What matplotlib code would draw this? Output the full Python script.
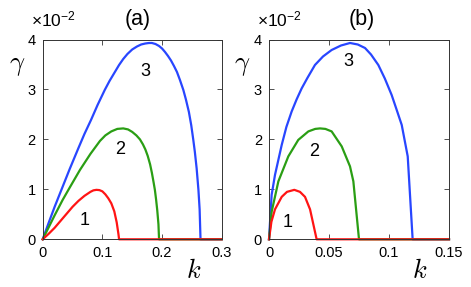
import matplotlib
matplotlib.use("Agg")
import matplotlib.pyplot as plt

# growth rate gamma (units of 1e-2) vs wavenumber k
# panel (a)
k1_a = [0, 0.01, 0.02, 0.03, 0.04, 0.05, 0.06, 0.07, 0.08, 0.085, 0.09, 0.095,
        0.10, 0.105, 0.11, 0.115, 0.12, 0.124, 0.127, 0.128, 0.3]
g1_a = [0, 0.11, 0.23, 0.37, 0.51, 0.65, 0.77, 0.87, 0.95, 0.98, 0.99, 0.985,
        0.96, 0.90, 0.82, 0.72, 0.56, 0.34, 0.10, 0, 0]

k2_a = [0, 0.01, 0.02, 0.0335, 0.045, 0.0625, 0.08, 0.096, 0.105, 0.115, 0.125,
        0.135, 0.143, 0.15, 0.157, 0.163, 0.168, 0.172, 0.176, 0.18, 0.183,
        0.186, 0.188, 0.19, 0.192, 0.194, 0.195, 0.3]
g2_a = [0, 0.24, 0.48, 0.79, 1.03, 1.39, 1.71, 1.97, 2.08, 2.16, 2.21,
        2.22, 2.20, 2.15, 2.08, 2.00, 1.90, 1.80, 1.67, 1.50, 1.33,
        1.13, 0.99, 0.80, 0.58, 0.30, 0, 0]

k3_a = [0, 0.01, 0.02, 0.03, 0.045, 0.06, 0.07, 0.081, 0.092, 0.104, 0.112,
        0.12, 0.128, 0.135, 0.142, 0.15, 0.158, 0.165, 0.172, 0.178, 0.183,
        0.189, 0.195, 0.2, 0.205, 0.21, 0.215, 0.22, 0.225, 0.23, 0.2357,
        0.24, 0.245, 0.249, 0.2524, 0.255, 0.258, 0.261, 0.263, 0.2645, 0.3]
g3_a = [0, 0.33, 0.65, 0.95, 1.40, 1.83, 2.11, 2.39, 2.69, 2.99, 3.17,
        3.33, 3.49, 3.61, 3.71, 3.80, 3.86, 3.90, 3.92, 3.93, 3.93,
        3.91, 3.87, 3.82, 3.75, 3.67, 3.58, 3.47, 3.35, 3.19, 2.99,
        2.80, 2.55, 2.28, 1.99, 1.75, 1.42, 0.99, 0.60, 0, 0]

# panel (b)
k1_b = [0, 0.002, 0.005, 0.0106, 0.015, 0.0211, 0.0258, 0.03, 0.0342, 0.0397, 0.15]
g1_b = [0, 0.35, 0.60, 0.85, 0.95, 0.99, 0.95, 0.85, 0.60, 0, 0]

k2_b = [0, 0.0022, 0.0078, 0.0161, 0.0244, 0.0328, 0.0385, 0.0425, 0.047,
        0.0522, 0.0606, 0.0675, 0.0703, 0.075, 0.15]
g2_b = [0, 0.55, 1.16, 1.66, 1.99, 2.16, 2.21, 2.22, 2.21,
        2.16, 1.86, 1.46, 1.16, 0, 0]

k3_b = [0, 0.0022, 0.005, 0.0106, 0.0145, 0.0189, 0.023, 0.0272, 0.032, 0.0383,
        0.045, 0.0522, 0.06, 0.0675, 0.074, 0.08, 0.085, 0.0911, 0.0965,
        0.1022, 0.106, 0.1106, 0.1156, 0.1197, 0.15]
g3_b = [0, 0.89, 1.29, 1.89, 2.25, 2.56, 2.80, 3.02, 3.23, 3.49,
        3.66, 3.79, 3.88, 3.93, 3.90, 3.83, 3.70, 3.49, 3.22,
        2.89, 2.62, 2.29, 1.66, 0, 0]

xticks_a = [0, 0.1, 0.2, 0.3]
xticks_b = [0, 0.05, 0.1, 0.15]
yticks = [0, 1, 2, 3, 4]

RED, GREEN, BLUE = "#ff1414", "#2a9e14", "#2846ff"

plt.rcParams["font.family"] = ["Liberation Sans", "DejaVu Sans"]
plt.rcParams["mathtext.fontset"] = "custom"
plt.rcParams["mathtext.rm"] = "Liberation Sans"
plt.rcParams["mathtext.it"] = "Liberation Sans:italic"

W, H = 471, 287
fig = plt.figure(figsize=(W / 100, H / 100), dpi=100)


def px(x, y):
    return x / W, 1 - y / H


ax_a = fig.add_axes([42.7 / W, 1 - 239.3 / H, 179 / W, 199.8 / H])
ax_b = fig.add_axes([269 / W, 1 - 239.3 / H, 180 / W, 199.8 / H])

panels = [
    (ax_a, [(k3_a, g3_a, BLUE), (k2_a, g2_a, GREEN), (k1_a, g1_a, RED)],
     xticks_a, ["0", "0.1", "0.2", "0.3"],
     [(0.071, 0.37), (0.130, 1.79), (0.172, 3.35)]),
    (ax_b, [(k3_b, g3_b, BLUE), (k2_b, g2_b, GREEN), (k1_b, g1_b, RED)],
     xticks_b, ["0", "0.05", "0.1", "0.15"],
     [(0.0158, 0.33), (0.0375, 1.75), (0.0658, 3.55)]),
]

for ax, curves, xt, xtl, lab_pos in panels:
    for k, g, c in curves:
        ax.plot(k, g, color=c, lw=1.6, clip_on=False)
    ax.set_xlim(xt[0], xt[-1])
    ax.set_ylim(0, 4)
    ax.set_xticks(xt)
    ax.set_xticklabels(xtl)
    ax.set_yticks(yticks)
    ax.tick_params(direction="in", top=True, right=True, length=3.5,
                   width=0.6, labelsize=10.5, pad=5, color="#333333")
    for s in ax.spines.values():
        s.set_linewidth(0.7)
        s.set_color("#333333")
    for i, (x, y) in enumerate(lab_pos):
        ax.text(x, y, str(i + 1), fontsize=13, ha="center", va="center")

# axis labels and panel titles
for gx, kx, mx, tx, title in [(17, 194, 31, 138, "(a)"), (242, 420, 257, 362, "(b)")]:
    fig.text(*px(gx, 66), r"$\gamma$", fontsize=19, ha="center", va="center",
             math_fontfamily="cm")
    fig.text(*px(kx, 271), r"$k$", fontsize=19, ha="center", va="center",
             math_fontfamily="cm")
    fig.text(*px(mx, 26), r"$\mathregular{\times10^{-2}}$", fontsize=12.5,
             ha="left", va="baseline")
    fig.text(*px(tx, 19.5), title, fontsize=15.5, ha="center", va="center")

fig.savefig("out.png", dpi=100)
